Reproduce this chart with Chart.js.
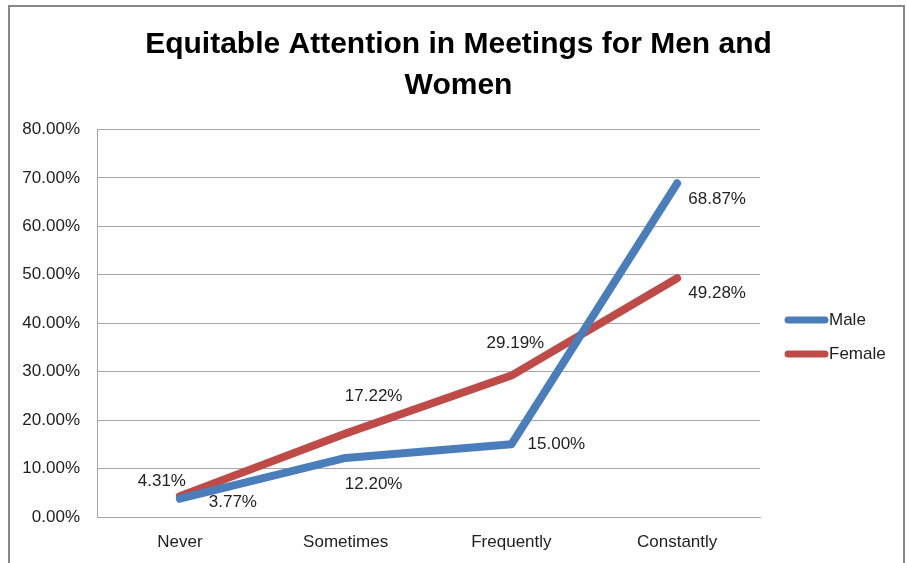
<!DOCTYPE html>
<html>
<head>
<meta charset="utf-8">
<script src="https://cdn.jsdelivr.net/npm/chart.js@4/dist/chart.umd.min.js"></script>
<style>
  html, body { margin: 0; padding: 0; background: #fff; }
  #wrap { width: 907px; height: 563px; }
</style>
</head>
<body>
<div id="wrap"><canvas id="attnChart" width="907" height="563"></canvas></div>
<script>
const categories = ["Never", "Sometimes", "Frequently", "Constantly"];
const maleValues = [3.77, 12.20, 15.00, 68.87];
const femaleValues = [4.31, 17.22, 29.19, 49.28];
const yTicks = [0, 10, 20, 30, 40, 50, 60, 70, 80];

const FONT = "'Liberation Sans', Arial, sans-serif";
const BLUE = "#4a7ebb";
const RED = "#be4b48";

// where each value label sits relative to its point (dx, dy)
const labelOffsets = [
  [[53, 4], [28, 26], [45, 0], [40, 16]],
  [[-18, -15], [28, -37], [4, -32], [40, 15]]
];

const framePlugin = {
  id: "frame",
  beforeDraw(chart) {
    const c = chart.ctx;
    c.save();
    c.strokeStyle = "#888888";
    c.lineWidth = 2;
    c.beginPath();
    c.moveTo(9, 570);
    c.lineTo(9, 6);
    c.lineTo(904, 6);
    c.lineTo(904, 570);
    c.stroke();
    c.restore();
  }
};

const valueLabels = {
  id: "valueLabels",
  afterDatasetsDraw(chart) {
    const c = chart.ctx;
    c.save();
    c.font = "17px " + FONT;
    c.fillStyle = "#222";
    c.textAlign = "center";
    c.textBaseline = "middle";
    chart.data.datasets.forEach((ds, i) => {
      chart.getDatasetMeta(i).data.forEach((pt, j) => {
        const off = labelOffsets[i][j];
        c.fillText(ds.data[j].toFixed(2) + "%", pt.x + off[0], pt.y + off[1]);
      });
    });
    c.restore();
  }
};

const sideLegend = {
  id: "sideLegend",
  afterDraw(chart) {
    const c = chart.ctx;
    c.save();
    c.font = "17px " + FONT;
    c.textBaseline = "middle";
    c.lineCap = "round";
    chart.data.datasets.forEach((ds, i) => {
      const y = 320 + i * 34;
      c.strokeStyle = ds.borderColor;
      c.lineWidth = 7;
      c.beginPath();
      c.moveTo(788, y);
      c.lineTo(825, y);
      c.stroke();
      c.fillStyle = "#222";
      c.fillText(ds.label, 829, y);
    });
    c.restore();
  }
};

new Chart(document.getElementById("attnChart"), {
  type: "line",
  data: {
    labels: categories,
    datasets: [
      { label: "Male", data: maleValues, borderColor: BLUE, backgroundColor: BLUE,
        borderWidth: 8, pointRadius: 0, borderCapStyle: "round", borderJoinStyle: "round" },
      { label: "Female", data: femaleValues, borderColor: RED, backgroundColor: RED,
        borderWidth: 8, pointRadius: 0, borderCapStyle: "round", borderJoinStyle: "round" }
    ]
  },
  options: {
    responsive: false,
    animation: false,
    layout: { padding: { left: 10, right: 0, top: 4, bottom: 0 } },
    plugins: {
      legend: { display: false },
      tooltip: { enabled: false },
      title: {
        display: true,
        text: ["Equitable Attention in Meetings for Men and", "Women"],
        color: "#000",
        font: { family: FONT, size: 30, weight: "bold", lineHeight: 1.34 },
        padding: { top: 21, bottom: 24 }
      }
    },
    scales: {
      x: {
        offset: true,
        grid: { display: false, drawTicks: false },
        border: { display: true, color: "#a6a6a6", width: 1 },
        ticks: { color: "#222", font: { family: FONT, size: 17 }, padding: 15 },
        afterFit(scale) { scale.height = 46; }
      },
      y: {
        min: 0,
        max: 80,
        afterBuildTicks(scale) { scale.ticks = yTicks.map(v => ({ value: v })); },
        grid: { color: "#a6a6a6", drawTicks: false },
        border: { display: true, color: "#a6a6a6", width: 1 },
        ticks: {
          color: "#222",
          font: { family: FONT, size: 17 },
          padding: 17,
          callback: v => v.toFixed(2) + "%"
        },
        afterFit(scale) { scale.width = 87; }
      },
      // empty right-hand column that holds the legend
      side: {
        position: "right",
        min: 0,
        max: 80,
        grid: { display: false, drawTicks: false },
        border: { display: false },
        ticks: { display: false },
        afterFit(scale) { scale.width = 147; }
      }
    }
  },
  plugins: [framePlugin, valueLabels, sideLegend]
});
</script>
</body>
</html>
